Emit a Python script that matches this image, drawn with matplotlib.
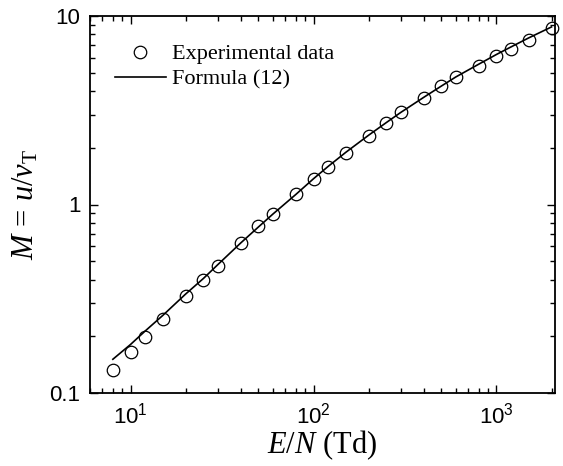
import matplotlib
matplotlib.use("Agg")
import matplotlib.pyplot as plt
from matplotlib.ticker import FixedLocator, FixedFormatter, LogLocator, NullFormatter

plt.rcParams['mathtext.fontset'] = 'custom'
plt.rcParams['mathtext.rm'] = 'Liberation Serif'
plt.rcParams['mathtext.it'] = 'Liberation Serif:italic'
plt.rcParams['font.family'] = ['Liberation Sans', 'DejaVu Sans']

# Experimental data
exp_en = [8, 10, 12, 15, 20, 25, 30, 40, 50, 60, 80, 100, 120, 150, 200, 250,
          300, 400, 500, 600, 800, 1000, 1200, 1500, 2000]
exp_m = [0.132, 0.165, 0.198, 0.247, 0.327, 0.400, 0.470, 0.625, 0.765, 0.891,
         1.13, 1.36, 1.59, 1.88, 2.30, 2.70, 3.08, 3.67, 4.23, 4.72, 5.43,
         6.10, 6.70, 7.46, 8.65]

# Formula (12)
fit_en = [8, 10, 12, 15, 20, 25, 30, 40, 50, 60, 80, 100, 120, 150, 200, 250,
          300, 400, 500, 600, 800, 1000, 1200, 1500, 2000]
fit_m = [0.151, 0.181, 0.213, 0.258, 0.335, 0.405, 0.48, 0.625, 0.76, 0.89,
         1.13, 1.37, 1.59, 1.89, 2.33, 2.72, 3.08, 3.70, 4.25, 4.75, 5.55,
         6.25, 6.85, 7.65, 8.75]

y_ticks = [0.1, 1, 10]
y_ticklabels = ['0.1', '1', '10']
x_ticks = [10, 100, 1000]
x_ticklabels = [r'$\mathregular{10^{1}}$', r'$\mathregular{10^{2}}$', r'$\mathregular{10^{3}}$']

fig = plt.figure(figsize=(5.63, 4.66), dpi=100)
ax = fig.add_axes([90/563, 1-393/466, (555-90)/563, (393-16)/466])

ax.plot(exp_en, exp_m, linestyle='none', marker='o', markersize=9,
        markerfacecolor='none', markeredgecolor='black', markeredgewidth=0.9,
        label='Experimental data', clip_on=False, zorder=3)
ax.plot(fit_en, fit_m, color='black', linewidth=1.2, label='Formula (12)')

ax.set_xscale('log')
ax.set_yscale('log')
ax.set_xlim(6, 2090)
ax.set_ylim(0.1, 10)

ax.xaxis.set_major_locator(FixedLocator(x_ticks))
ax.xaxis.set_major_formatter(FixedFormatter(x_ticklabels))
ax.xaxis.set_minor_locator(LogLocator(base=10, subs=range(2, 10)))
ax.xaxis.set_minor_formatter(NullFormatter())
ax.yaxis.set_major_locator(FixedLocator(y_ticks))
ax.yaxis.set_major_formatter(FixedFormatter(y_ticklabels))
ax.yaxis.set_minor_locator(LogLocator(base=10, subs=range(2, 10)))
ax.yaxis.set_minor_formatter(NullFormatter())

ax.tick_params(which='both', direction='in', top=True, right=True, width=1.0)
ax.tick_params(which='major', length=6, labelsize=16, pad=7)
ax.tick_params(which='minor', length=3.5)
for s in ax.spines.values():
    s.set_linewidth(1.3)

ax.set_xlabel(r'$E/N$ (Td)', fontsize=22, family='Liberation Serif', labelpad=0)
ax.set_ylabel(r'$M\,=\,u/v_{\mathrm{T}}$', fontsize=22, family='Liberation Serif', labelpad=6)

leg = ax.legend(loc='upper left', frameon=False, prop={'family': 'Liberation Serif', 'size': 16},
                handlelength=2.3, handletextpad=0.3, borderaxespad=0.6, labelspacing=0.2,
                bbox_to_anchor=(0.005, 0.985))

fig.savefig('out.png', dpi=100)
